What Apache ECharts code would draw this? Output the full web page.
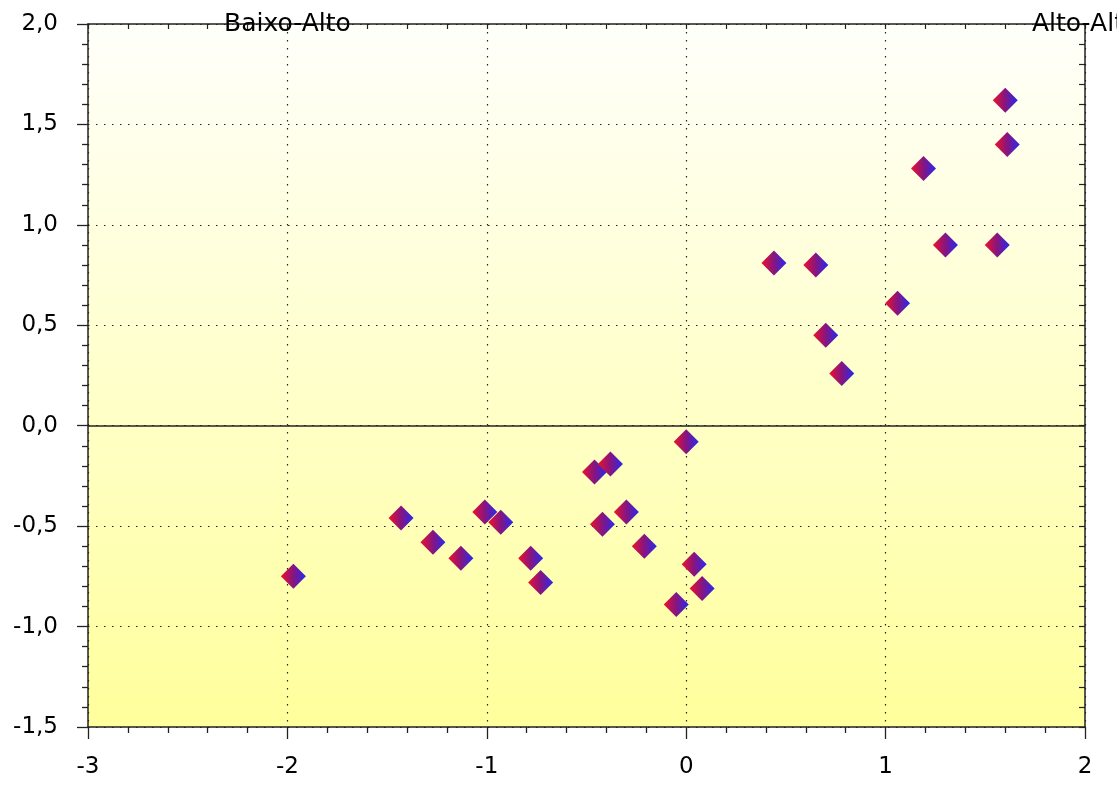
<!DOCTYPE html>
<html>
<head>
<meta charset="utf-8">
<script src="https://cdn.jsdelivr.net/npm/echarts@6/dist/echarts.min.js"></script>
<style>
html,body{margin:0;padding:0;background:#fff;}
#chart{width:1117px;height:785px;}
</style>
</head>
<body>
<div id="chart"></div>
<script>
// Data
var xValues = [-1.97, -1.43, -1.27, -1.13, -1.01, -0.93, -0.78, -0.73, -0.46, -0.38, -0.42, -0.30, -0.21, 0.00, 0.04, 0.08, -0.05, 0.44, 0.65, 0.70, 0.78, 1.06, 1.19, 1.30, 1.56, 1.60, 1.61];
var yValues = [-0.75, -0.46, -0.58, -0.66, -0.43, -0.48, -0.66, -0.78, -0.23, -0.19, -0.49, -0.43, -0.60, -0.08, -0.69, -0.81, -0.89, 0.81, 0.80, 0.45, 0.26, 0.61, 1.28, 0.90, 0.90, 1.62, 1.40];
var quadrantLabels = ['Baixo-Alto', 'Alto-Alto'];
var xRange = [-3, 2];
var yRange = [-1.5, 2.0];

var points = xValues.map(function (x, i) { return [x, yValues[i]]; });

var FONT = 'DejaVu Sans';
var chart = echarts.init(document.getElementById('chart'), null, {renderer: 'canvas'});

var dotted = {show: true, lineStyle: {color: '#222', width: 1.2, type: [1.5, 6.5]}};

chart.setOption({
  animation: false,
  backgroundColor: '#ffffff',
  grid: {
    left: 88, right: 32, top: 24, bottom: 58,
    show: true,
    borderWidth: 0,
    backgroundColor: new echarts.graphic.LinearGradient(0, 0, 0, 1, [
      {offset: 0, color: '#fffffb'},
      {offset: 1, color: '#ffff9c'}
    ])
  },
  xAxis: [
    {
      type: 'value', position: 'bottom', min: xRange[0], max: xRange[1], interval: 1,
      axisLine: {show: true, onZero: false, lineStyle: {color: '#222', width: 1.5}},
      axisTick: {show: true, inside: false, length: 12, lineStyle: {color: '#222', width: 1.3}},
      minorTick: {show: true, splitNumber: 5, length: 6, lineStyle: {color: '#222', width: 1.3}},
      axisLabel: {show: true, margin: 29, color: '#000', fontSize: 23, fontFamily: FONT},
      splitLine: dotted,
      minorSplitLine: {show: false}
    },
    {
      type: 'value', position: 'top', min: xRange[0], max: xRange[1], interval: 1,
      axisLine: {show: true, onZero: false, lineStyle: {color: '#222', width: 1.5}},
      axisTick: {show: true, inside: true, length: 5, lineStyle: {color: '#222', width: 1.2}},
      minorTick: {show: true, splitNumber: 5, length: 5, lineStyle: {color: '#222', width: 1.2}},
      axisLabel: {show: false},
      splitLine: {show: false}
    }
  ],
  yAxis: [
    {
      type: 'value', position: 'left', min: yRange[0], max: yRange[1], interval: 0.5,
      axisLine: {show: true, onZero: false, lineStyle: {color: '#222', width: 1.5}},
      axisTick: {show: true, inside: false, length: 11, lineStyle: {color: '#222', width: 1.3}},
      minorTick: {show: true, splitNumber: 5, length: 6, lineStyle: {color: '#222', width: 1.3}},
      axisLabel: {
        show: true, margin: 30, color: '#000', fontSize: 23, fontFamily: FONT,
        formatter: function (v) { return v.toFixed(1).replace('.', ','); }
      },
      splitLine: dotted
    },
    {
      type: 'value', position: 'right', min: yRange[0], max: yRange[1], interval: 0.5,
      axisLine: {show: true, onZero: false, lineStyle: {color: '#222', width: 1.5}},
      axisTick: {show: true, inside: true, length: 6, lineStyle: {color: '#222', width: 1.2}},
      minorTick: {show: true, splitNumber: 5, length: 6, lineStyle: {color: '#222', width: 1.2}},
      axisLabel: {show: false},
      splitLine: {show: false}
    }
  ],
  graphic: [
    {type: 'text', x: 224, y: 24, z: 100,
     style: {text: quadrantLabels[0], font: '25px "' + FONT + '"', fill: '#000', verticalAlign: 'middle'}},
    {type: 'text', x: 1032, y: 24, z: 100,
     style: {text: quadrantLabels[1], font: '25px "' + FONT + '"', fill: '#000', verticalAlign: 'middle'}}
  ],
  series: [{
    type: 'scatter',
    xAxisIndex: 0, yAxisIndex: 0,
    symbol: 'diamond',
    symbolSize: 25,
    data: points,
    itemStyle: {
      opacity: 1,
      color: new echarts.graphic.LinearGradient(0, 0, 1, 0, [
        {offset: 0, color: '#f0102a'},
        {offset: 0.5, color: '#86157f'},
        {offset: 1, color: '#2828f2'}
      ])
    },
    markLine: {
      silent: true,
      symbol: ['none', 'none'],
      label: {show: false},
      lineStyle: {color: '#222', width: 1.5, type: 'solid'},
      data: [{yAxis: 0}]
    },
    z: 5
  }]
});
</script>
</body>
</html>
